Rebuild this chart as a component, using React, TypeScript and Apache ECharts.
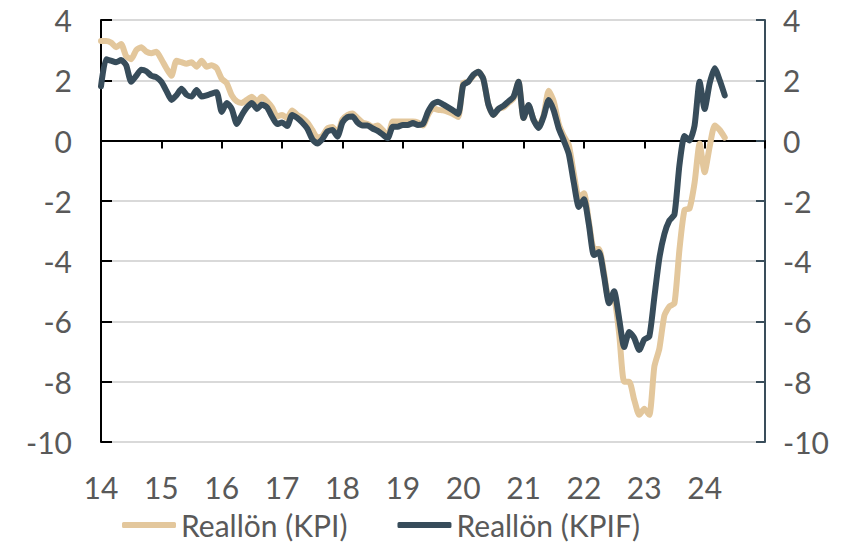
import React, { useEffect, useRef } from "react";
import * as echarts from "echarts";

// Monthly data, Jan 2014 .. May 2024
const startYear = 2014;
const seriesNames = ["Reallön (KPI)", "Reallön (KPIF)"];
const kpi = [
  3.3, 3.3, 3.25, 3.1, 3.2, 2.8, 2.7, 3.0, 3.1, 2.95, 2.9, 2.95,
  2.7, 2.4, 2.15, 2.65, 2.6, 2.55, 2.6, 2.45, 2.65, 2.45, 2.5, 2.4,
  2.05, 1.9, 1.5, 1.3, 1.25, 1.35, 1.45, 1.3, 1.45, 1.3, 1.1, 0.8,
  0.85, 0.75, 1.0, 0.85, 0.75, 0.6, 0.35, 0.1, 0.15, 0.4, 0.45, 0.25,
  0.7, 0.85, 0.9, 0.75, 0.6, 0.55, 0.46, 0.5, 0.35, 0.13, 0.63, 0.63,
  0.63, 0.63, 0.63, 0.6, 0.5, 0.85, 1.07, 1.02, 1.0, 0.95, 0.88, 0.78,
  1.9, 1.95, 2.15, 2.28, 2.05, 1.2, 0.85, 1.05, 1.1, 1.25, 1.4, 1.95,
  0.75, 1.15, 0.7, 0.45, 0.85, 1.65, 1.3, 0.55, 0.15, -0.15, -1.1, -1.9,
  -1.75, -2.7, -3.6, -3.6, -4.4, -5.3, -5.3, -6.4, -8.0, -8.0, -8.6, -9.1,
  -8.9, -9.1, -7.5, -6.9, -5.8, -5.5, -5.4, -3.6, -2.3, -2.25, -1.4, -0.1,
  -1.05, -0.2, 0.5, 0.35, 0.1,
];
const kpif = [
  1.8, 2.7, 2.65, 2.6, 2.67, 2.5, 1.95, 2.15, 2.35, 2.3, 2.15, 2.1,
  1.95, 1.65, 1.35, 1.5, 1.72, 1.52, 1.46, 1.68, 1.46, 1.5, 1.56, 1.6,
  0.95, 1.25, 1.05, 0.55, 0.85, 1.1, 1.25, 1.05, 1.2, 1.1, 0.8, 0.55,
  0.6, 0.48, 0.85, 0.75, 0.6, 0.4, 0.05, -0.1, 0.05, 0.3, 0.35, 0.13,
  0.6, 0.78, 0.8, 0.6, 0.5, 0.5, 0.4, 0.32, 0.2, 0.08, 0.46, 0.46,
  0.52, 0.52, 0.58, 0.52, 0.55, 0.95, 1.22, 1.29, 1.2, 1.1, 1.0, 0.88,
  1.84, 1.95, 2.18, 2.28, 2.05, 1.2, 0.85, 1.05, 1.15, 1.3, 1.45, 1.95,
  0.75, 1.18, 0.68, 0.42, 0.8, 1.35, 1.0, 0.4, 0.0, -0.45, -1.4, -2.2,
  -1.95, -2.8, -3.8, -3.7, -4.5, -5.4, -5.0, -5.9, -6.85, -6.35, -6.55, -6.95,
  -6.6, -6.5, -5.2, -3.9, -3.1, -2.65, -2.45, -0.8, 0.15, 0.0, 0.5, 1.95,
  1.05, 1.9, 2.4, 2.0, 1.5,
];
const yMin = -10;
const yMax = 4;
const yStep = 2;
const xMin = 2014;
const xMax = 2025;

const toPairs = (arr: number[]) => arr.map((v, i) => [startYear + i / 12, v]);

const FONT = "Lato";
const LABEL = "#595959";

export default function App() {
  const ref = useRef<HTMLDivElement>(null);
  useEffect(() => {
    if (!ref.current) return;
    const chart = echarts.init(ref.current, undefined, { renderer: "svg" });
    const xLabel = (v: number) => (v >= xMax ? "" : String(v - 2000));
    chart.setOption({
      animation: false,
      textStyle: { fontFamily: FONT },
      grid: { left: 101, right: 86, top: 20, bottom: 104, containLabel: false },
      legend: {
        left: 122,
        top: 508,
        padding: 0,
        itemWidth: 54,
        itemHeight: 6,
        itemGap: 50,
        icon: "roundRect",
        textStyle: { fontSize: 30, lineHeight: 34, color: LABEL, fontFamily: FONT },
        data: seriesNames,
      },
      xAxis: [
        {
          type: "value",
          min: xMin,
          max: xMax,
          interval: 1,
          axisLine: { show: true, onZero: true, lineStyle: { color: "#000", width: 2 } },
          axisTick: { show: true, length: 8, lineStyle: { color: "#000", width: 2 } },
          axisLabel: { show: false },
          splitLine: { show: false },
        },
        {
          type: "value",
          min: xMin,
          max: xMax,
          interval: 1,
          position: "bottom",
          axisLine: { show: false, onZero: false },
          axisTick: { show: false },
          axisLabel: { show: true, fontSize: 30, color: LABEL, margin: 30, formatter: xLabel, fontFamily: FONT },
          splitLine: { show: false },
        },
      ],
      yAxis: [
        {
          type: "value",
          position: "left",
          min: yMin,
          max: yMax,
          interval: yStep,
          axisLine: { show: true, onZero: false, lineStyle: { color: "#000", width: 2 } },
          axisTick: { show: true, inside: true, length: 11, lineStyle: { color: "#000", width: 2 } },
          axisLabel: { fontSize: 30, color: LABEL, margin: 29, fontFamily: FONT },
          splitLine: { show: true, lineStyle: { color: "#d9d9d9", width: 2 } },
        },
        {
          type: "value",
          position: "right",
          min: yMin,
          max: yMax,
          interval: yStep,
          axisLine: { show: true, onZero: false, lineStyle: { color: "#3a4e5b", width: 2 } },
          axisTick: { show: true, inside: true, length: 9, lineStyle: { color: "#3a4e5b", width: 2 } },
          axisLabel: { fontSize: 30, color: LABEL, margin: 18, fontFamily: FONT },
          splitLine: { show: false },
        },
      ],
      series: [
        {
          name: seriesNames[0],
          type: "line",
          data: toPairs(kpi),
          showSymbol: false,
          symbol: "none",
          smooth: 0.2,
          itemStyle: { color: "#e3c79c" },
          lineStyle: { color: "#e3c79c", width: 6, cap: "round", join: "round" },
          z: 3,
        },
        {
          name: seriesNames[1],
          type: "line",
          data: toPairs(kpif),
          showSymbol: false,
          symbol: "none",
          smooth: 0.2,
          itemStyle: { color: "#374c5a" },
          lineStyle: { color: "#374c5a", width: 6, cap: "round", join: "round" },
          z: 4,
        },
      ],
    });
    return () => chart.dispose();
  }, []);
  return <div ref={ref} style={{ width: 851, height: 546, position: "absolute", left: 0, top: 0 }} />;
}
